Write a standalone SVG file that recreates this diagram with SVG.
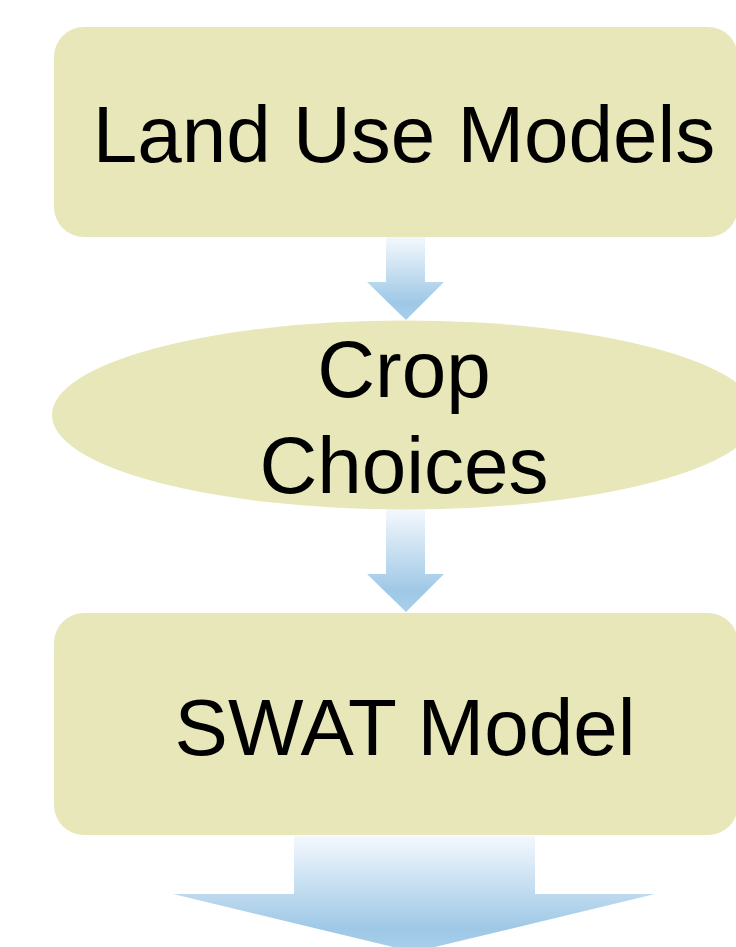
<svg xmlns="http://www.w3.org/2000/svg" width="736" height="947" viewBox="0 0 736 947">
  <style>
    .node { fill: #e8e7b9; }
    .label { font-family: "Liberation Sans", Arial, sans-serif; font-size: 80px; fill: #000; text-anchor: middle; }
    .flow { fill: url(#flowFill); }
  </style>
  <defs>
    <linearGradient id="flowFill" x1="0" y1="0" x2="0" y2="1">
      <stop offset="0" stop-color="#f4f8fd"/>
      <stop offset="0.8" stop-color="#9ec8e6"/>
      <stop offset="1" stop-color="#a9d0eb"/>
    </linearGradient>
  </defs>
  <rect width="736" height="947" fill="#ffffff"/>

  <g id="connectors">
    <path class="flow" d="M386,237 H425 V282 H444 L406,320 L367,282 H386 Z"/>
    <path class="flow" d="M386,509 H425 V574 H444 L406,612 L367,574 H386 Z"/>
    <path class="flow" d="M294,836 H535 V894 H655 L414,952 L173,894 H294 Z"/>
  </g>

  <g id="land-use-models">
    <rect class="node" x="54" y="27" width="684" height="210" rx="30" ry="30"/>
    <text class="label" x="404" y="162">Land Use Models</text>
  </g>

  <g id="crop-choices">
    <ellipse class="node" cx="405" cy="415" rx="353" ry="94.5"/>
    <text class="label" x="404" y="397">Crop</text>
    <text class="label" x="404" y="493">Choices</text>
  </g>

  <g id="swat-model">
    <rect class="node" x="54" y="613" width="684" height="222" rx="30" ry="30"/>
    <text class="label" x="405" y="755">SWAT Model</text>
  </g>
</svg>
